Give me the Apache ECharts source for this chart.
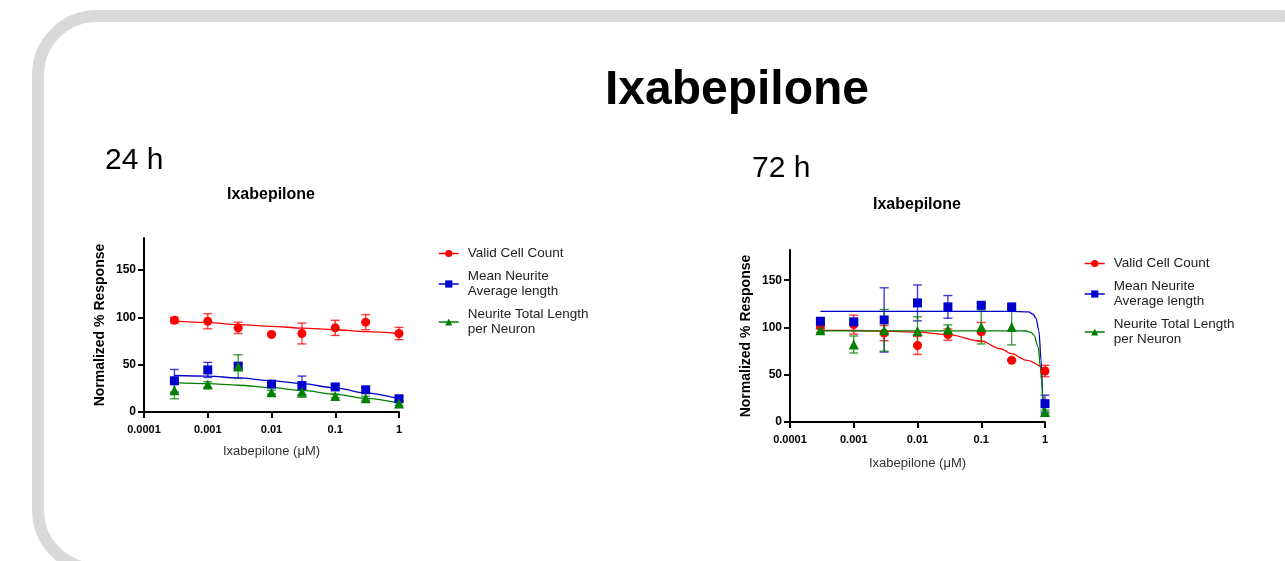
<!DOCTYPE html>
<html>
<head>
<meta charset="utf-8">
<script src="https://cdn.jsdelivr.net/npm/echarts@6/dist/echarts.min.js"></script>
<style>
html,body{margin:0;padding:0;background:#fff;}
#chart{width:1285px;height:561px;}
</style>
</head>
<body>
<div id="chart"></div>
<script>
// ---------- DATA ----------
const doses = [0.0003, 0.001, 0.003, 0.01, 0.03, 0.1, 0.3, 1];
const xTickLabels = ['0.0001', '0.001', '0.01', '0.1', '1'];
const yTickValues = [0, 50, 100, 150];
const seriesNames = ['Valid Cell Count', 'Mean Neurite Average length', 'Neurite Total Length per Neuron'];
const legendLabels = ['Valid Cell Count', 'Mean Neurite\nAverage length', 'Neurite Total Length\nper Neuron'];

// 24 h
const cell24 = [97, 96, 89, 82, 83, 89, 95, 83];
const cell24Err = [3, 8, 6, 1, 11, 8, 8, 6.5];
const mean24 = [33, 44.5, 48.5, 29.5, 28, 26.5, 23.5, 14];
const mean24Err = [12, 8, 2, 2, 10, 2, 3, 2];
const total24 = [23, 29, 48, 21, 21.5, 17, 14.5, 9];
const total24Err = [9, 3, 12.5, 2, 6, 2, 2, 2];

const fitX24 = [0.0003, 0.001, 0.003, 0.01, 0.03, 0.1, 0.3, 1];
const cellFit24 = [96, 94.5, 92.5, 90.5, 88.7, 87, 85, 83];
const meanFit24 = [38.6, 38, 36, 33, 30, 25.5, 20, 14];
const totalFit24 = [31, 30, 28.3, 25.8, 22.8, 18.6, 14.5, 9.5];

// 72 h
const cell72 = [101.6, 103, 94, 81, 92.5, 95.3, 65.4, 54];
const cell72Err = [3, 10, 8, 9.5, 6, 10, 1, 6];
const mean72 = [106.6, 106, 108, 126, 121.8, 123.5, 121.8, 19.4];
const mean72Err = [2, 2, 34, 19, 12, 2, 2, 9];
const total72 = [97, 82, 97, 96.4, 97.8, 100.6, 100.6, 10.6];
const total72Err = [2, 9, 22, 15, 5, 18, 19, 2];

const cellFit72X = [0.0003, 0.001, 0.003, 0.01, 0.03, 0.1, 0.2, 0.3, 0.5, 1];
const cellFit72 = [97, 96.8, 96.2, 95, 92.5, 85.5, 77.5, 72.4, 65.5, 55];
const meanFit72X = [0.0003, 0.01, 0.3, 0.55, 0.65, 0.72, 0.8, 0.87, 0.92, 0.96];
const meanFit72 = [117, 117, 117, 116.5, 114, 110, 97, 65, 30, 10];
const totalFit72X = [0.0003, 0.01, 0.3, 0.5, 0.6, 0.67, 0.785, 0.845, 0.887, 0.93, 0.95];
const totalFit72 = [96.5, 96.5, 96.5, 96.3, 95, 92, 79, 58, 44, 16, 9];

// ---------- STYLE ----------
const colors = ['#ff0000', '#0000cc', '#008000'];
const symbols = ['circle', 'rect', 'triangle'];
const symbolSizes = [9, 9, 10];
const FONT = 'Liberation Sans, Arial, sans-serif';

function pairs(xs, ys) { return xs.map((x, i) => [x, ys[i]]); }

function errSeries(vals, errs, gi, color) {
  return {
    type: 'custom', name: 'err' + gi + color, xAxisIndex: gi, yAxisIndex: gi,
    coordinateSystem: 'cartesian2d', silent: true, z: 2,
    encode: { x: 0, y: [1, 2] },
    data: doses.map((d, i) => [d, vals[i] - errs[i], vals[i] + errs[i]]),
    renderItem: function (params, api) {
      const x = api.value(0);
      const top = api.coord([x, api.value(2)]);
      const bot = api.coord([x, api.value(1)]);
      const hw = 4.5;
      const st = { stroke: color, lineWidth: 1.4, opacity: 0.75 };
      return {
        type: 'group', children: [
          { type: 'line', shape: { x1: top[0], y1: top[1], x2: bot[0], y2: bot[1] }, style: st },
          { type: 'line', shape: { x1: top[0] - hw, y1: top[1], x2: top[0] + hw, y2: top[1] }, style: st },
          { type: 'line', shape: { x1: bot[0] - hw, y1: bot[1], x2: bot[0] + hw, y2: bot[1] }, style: st }
        ]
      };
    }
  };
}
function fitSeries(xs, ys, gi, color) {
  return {
    type: 'line', name: 'fit' + gi + color, xAxisIndex: gi, yAxisIndex: gi,
    data: pairs(xs, ys), showSymbol: false, symbol: 'none', smooth: 0.35, smoothMonotone: 'x',
    lineStyle: { color: color, width: 1.3 }, z: 3, silent: true
  };
}
function pointSeries(vals, gi, k) {
  return {
    type: 'line', name: seriesNames[k], xAxisIndex: gi, yAxisIndex: gi,
    data: pairs(doses, vals), symbol: symbols[k], symbolSize: symbolSizes[k], showAllSymbol: true,
    itemStyle: { color: colors[k], opacity: 1 }, lineStyle: { color: colors[k], width: 1.5, opacity: 0 },
    z: 5
  };
}

const sets = [
  { vals: [cell24, mean24, total24], errs: [cell24Err, mean24Err, total24Err],
    fits: [[fitX24, cellFit24], [fitX24, meanFit24], [fitX24, totalFit24]] },
  { vals: [cell72, mean72, total72], errs: [cell72Err, mean72Err, total72Err],
    fits: [[cellFit72X, cellFit72], [meanFit72X, meanFit72], [totalFit72X, totalFit72]] }
];

const series = [];
sets.forEach((s, gi) => {
  for (let k = 0; k < 3; k++) series.push(errSeries(s.vals[k], s.errs[k], gi, colors[k]));
  for (let k = 0; k < 3; k++) series.push(fitSeries(s.fits[k][0], s.fits[k][1], gi, colors[k]));
  for (let k = 0; k < 3; k++) series.push(pointSeries(s.vals[k], gi, k));
});

const grids = [
  { left: 144, top: 238, width: 255, height: 174, ymax: 184, xNameGap: 33 },
  { left: 790, top: 250, width: 255, height: 172, ymax: 182, xNameGap: 35 }
];

function xAxis(gi) {
  return {
    type: 'log', logBase: 10, gridIndex: gi, min: 0.0001, max: 1,
    name: 'Ixabepilone (\u03bcM)', nameLocation: 'middle', nameGap: grids[gi].xNameGap,
    nameTextStyle: { fontFamily: FONT, fontSize: 13, color: '#333' },
    axisLine: { show: true, onZero: false, lineStyle: { color: '#000', width: 2 } },
    axisTick: { show: true, length: 6, lineStyle: { color: '#000', width: 2 } },
    axisLabel: { margin: 12, fontFamily: FONT, fontSize: 11, fontWeight: 'bold', color: '#000',
      formatter: v => xTickLabels[Math.round(Math.log10(v)) + 4] },
    splitLine: { show: false }, minorTick: { show: false }
  };
}
function yAxis(gi) {
  return {
    type: 'value', gridIndex: gi, min: 0, max: grids[gi].ymax,
    name: 'Normalized % Response', nameLocation: 'middle', nameGap: 37,
    nameTextStyle: { fontFamily: FONT, fontSize: 14, fontWeight: 'bold', color: '#000' },
    axisLine: { show: true, lineStyle: { color: '#000', width: 2 } },
    axisTick: { show: true, length: 6, lineStyle: { color: '#000', width: 2 }, customValues: yTickValues },
    axisLabel: { margin: 8, fontFamily: FONT, fontSize: 12, fontWeight: 'bold', color: '#000', customValues: yTickValues },
    splitLine: { show: false }
  };
}
function legend(left, top) {
  return {
    data: seriesNames, orient: 'vertical', left: left, top: top, itemGap: 8, padding: 0,
    itemWidth: 20, itemHeight: 9, selectedMode: false,
    formatter: n => legendLabels[seriesNames.indexOf(n)],
    lineStyle: { width: 1.5, opacity: 1 },
    textStyle: { fontFamily: FONT, fontSize: 13.5, lineHeight: 15, color: '#222', padding: [0, 0, 0, 4] }
  };
}

const textEl = (x, y, text, font, align) => ({
  type: 'text', x: x, y: y, silent: true,
  style: { text: text, font: font, fill: '#000', textAlign: align || 'center', textVerticalAlign: 'middle' }
});

const option = {
  animation: false,
  backgroundColor: '#fff',
  grid: grids.map(g => ({ left: g.left, top: g.top, width: g.width, height: g.height })),
  xAxis: [xAxis(0), xAxis(1)],
  yAxis: [yAxis(0), yAxis(1)],
  legend: [legend(438, 246), legend(1084, 256)],
  series: series,
  graphic: [
    { type: 'rect', silent: true, z: -10,
      shape: { x: 38, y: 16, width: 1301, height: 553, r: 59 },
      style: { fill: 'none', stroke: '#d9d9d9', lineWidth: 12 } },
    textEl(737, 91, 'Ixabepilone', 'bold 48px ' + FONT),
    textEl(105, 161, '24 h', '30px ' + FONT, 'left'),
    textEl(752, 169, '72 h', '30px ' + FONT, 'left'),
    textEl(271, 195, 'Ixabepilone', 'bold 16px ' + FONT),
    textEl(917, 205, 'Ixabepilone', 'bold 16px ' + FONT)
  ]
};

const chart = echarts.init(document.getElementById('chart'), null, { renderer: 'canvas' });
chart.setOption(option);
</script>
</body>
</html>
